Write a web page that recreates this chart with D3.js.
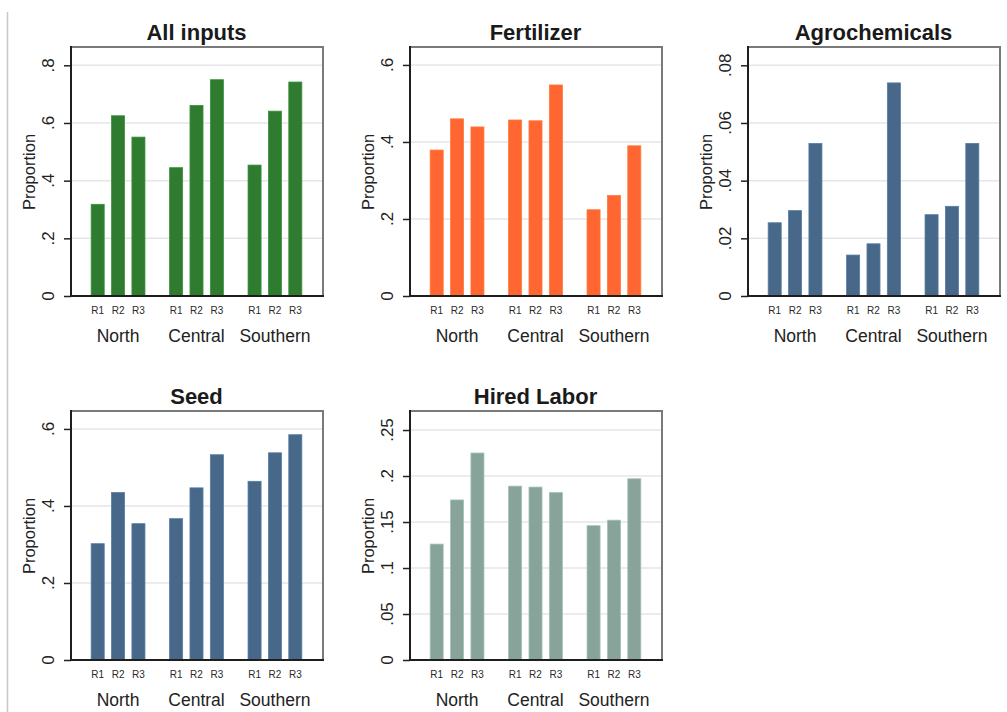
<!DOCTYPE html>
<html>
<head>
<meta charset="utf-8">
<script src="https://cdn.jsdelivr.net/npm/d3@7"></script>
<style>
  body { margin: 0; background: #fff; }
  svg { display: block; font-family: "Liberation Sans", Arial, sans-serif; }
</style>
</head>
<body>
<div id="mychart"></div>
<script>
// data
const regions = ["North", "Central", "Southern"];
const rounds = ["R1", "R2", "R3"];

const allInputs     = [0.318, 0.625, 0.551, 0.445, 0.661, 0.750, 0.454, 0.641, 0.742];
const fertilizer    = [0.379, 0.460, 0.439, 0.457, 0.455, 0.548, 0.224, 0.261, 0.390];
const agrochemicals = [0.0254, 0.0296, 0.0529, 0.0142, 0.0181, 0.0739, 0.0282, 0.0311, 0.0529];
const seed          = [0.302, 0.435, 0.354, 0.367, 0.447, 0.533, 0.464, 0.538, 0.585];
const hiredLabor    = [0.126, 0.174, 0.225, 0.189, 0.188, 0.182, 0.146, 0.152, 0.197];

const ticksAll   = [0, 0.2, 0.4, 0.6, 0.8];
const ticksFert  = [0, 0.2, 0.4, 0.6];
const ticksAgro  = [0, 0.02, 0.04, 0.06, 0.08];
const ticksSeed  = [0, 0.2, 0.4, 0.6];
const ticksLabor = [0, 0.05, 0.1, 0.15, 0.2, 0.25];

const panels = [
    { title: "All inputs",    values: allInputs,     ticks: ticksAll,   yMax: 0.86,  color: "#2f7b30", x: 71,  y: 48 },
    { title: "Fertilizer",    values: fertilizer,    ticks: ticksFert,  yMax: 0.644, color: "#ff6631", x: 410, y: 48 },
    { title: "Agrochemicals", values: agrochemicals, ticks: ticksAgro,  yMax: 0.086, color: "#476889", x: 748, y: 48 },
    { title: "Seed",          values: seed,          ticks: ticksSeed,  yMax: 0.644, color: "#476889", x: 71,  y: 412 },
    { title: "Hired Labor",   values: hiredLabor,    ticks: ticksLabor, yMax: 0.2696, color: "#88a399", x: 410, y: 412 }
];

const width = 1007, height = 712;
const plotW = 251, plotH = 248;

const svg = d3.select("#mychart")
    .append("svg")
    .attr("width", width)
    .attr("height", height);

// thin frame line on the left edge of the image
svg.append("line")
    .attr("x1", 7.5).attr("x2", 7.5)
    .attr("y1", 12).attr("y2", height)
    .attr("stroke", "#c8c8c8")
    .attr("stroke-width", 1.5);

const fmt = v => v === 0 ? "0" : d3.format("")(+v.toFixed(3)).replace(/^0\./, ".");

panels.forEach(p => {
    const g = svg.append("g").attr("transform", `translate(${p.x},${p.y})`);

    const x0 = d3.scaleBand().domain(regions).range([0, plotW])
        .paddingInner(0.2).paddingOuter(0.2);
    const x1 = d3.scaleBand().domain(rounds).range([0, x0.bandwidth()])
        .paddingInner(0.36).paddingOuter(0.22);
    const y = d3.scaleLinear().domain([0, p.yMax]).range([plotH, 0]);

    // gridlines
    g.selectAll(".grid")
        .data(p.ticks.filter(t => t > 0))
        .enter()
        .append("line")
        .attr("x1", 0).attr("x2", plotW)
        .attr("y1", d => y(d)).attr("y2", d => y(d))
        .attr("stroke", "#e6e6e6")
        .attr("stroke-width", 1.5);

    // bars
    const rows = p.values.map((v, i) => ({
        region: regions[Math.floor(i / rounds.length)],
        round: rounds[i % rounds.length],
        value: v
    }));

    g.selectAll("rect")
        .data(rows)
        .enter()
        .append("rect")
        .attr("x", d => x0(d.region) + x1(d.round))
        .attr("y", d => y(d.value))
        .attr("width", x1.bandwidth())
        .attr("height", d => plotH - y(d.value))
        .attr("fill", p.color)
        .attr("stroke", d3.color(p.color).brighter(0.5))
        .attr("stroke-width", 0.8);

    // plot frame: top and right in grey, axes in near-black
    g.append("line").attr("x1", 0).attr("x2", plotW).attr("y1", -1).attr("y2", -1)
        .attr("stroke", "#7a7a7a").attr("stroke-width", 2);
    g.append("line").attr("x1", plotW + 1).attr("x2", plotW + 1).attr("y1", -2).attr("y2", plotH)
        .attr("stroke", "#7a7a7a").attr("stroke-width", 2);

    const yAxis = g.append("g")
        .call(d3.axisLeft(y).tickValues(p.ticks).tickSize(7).tickFormat(""));
    yAxis.select(".domain").remove();
    yAxis.selectAll(".tick line").attr("stroke", "#222").attr("stroke-width", 1.5);

    g.append("line").attr("x1", 0).attr("x2", 0).attr("y1", -2).attr("y2", plotH + 1)
        .attr("stroke", "#1e1e1e").attr("stroke-width", 2);
    g.append("line").attr("x1", -1).attr("x2", plotW + 2).attr("y1", plotH).attr("y2", plotH)
        .attr("stroke", "#1e1e1e").attr("stroke-width", 2);

    // rotated tick labels
    g.selectAll(".ylab")
        .data(p.ticks)
        .enter()
        .append("text")
        .attr("transform", d => `translate(-17,${y(d)}) rotate(-90)`)
        .attr("text-anchor", "middle")
        .attr("font-size", 17)
        .attr("fill", "#222")
        .text(d => fmt(d));

    g.append("text")
        .attr("transform", `translate(-36,${plotH / 2}) rotate(-90)`)
        .attr("text-anchor", "middle")
        .attr("font-size", 16.5)
        .attr("fill", "#222")
        .text("Proportion");

    // round labels under each bar
    g.selectAll(".rlab")
        .data(rows)
        .enter()
        .append("text")
        .attr("x", d => x0(d.region) + x1(d.round) + x1.bandwidth() / 2)
        .attr("y", plotH + 17.5)
        .attr("text-anchor", "middle")
        .attr("font-size", 10)
        .attr("fill", "#2a2a2a")
        .text(d => d.round);

    // region labels
    g.selectAll(".glab")
        .data(regions)
        .enter()
        .append("text")
        .attr("x", d => x0(d) + x0.bandwidth() / 2)
        .attr("y", plotH + 45.5)
        .attr("text-anchor", "middle")
        .attr("font-size", 17.5)
        .attr("fill", "#222")
        .text(d => d);

    g.append("text")
        .attr("x", plotW / 2)
        .attr("y", -8.5)
        .attr("text-anchor", "middle")
        .attr("font-size", 22)
        .attr("font-weight", "bold")
        .attr("fill", "#1a1a1a")
        .text(p.title);
});
</script>
</body>
</html>
